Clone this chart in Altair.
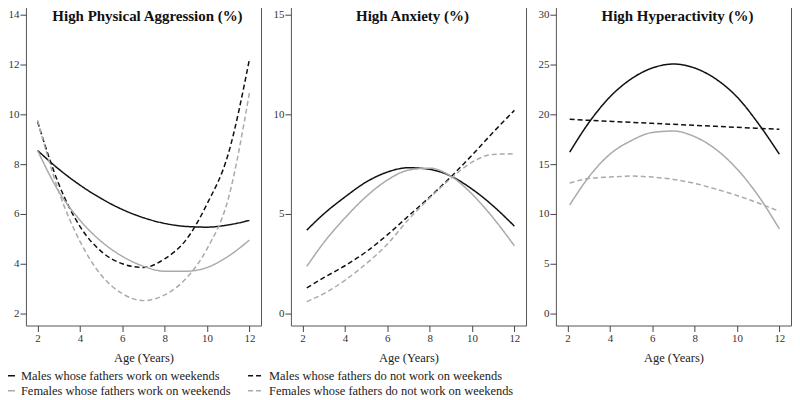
import altair as alt
import pandas as pd

SERIES = [
    "Males whose fathers work on weekends",
    "Males whose fathers do not work on weekends",
    "Females whose fathers work on weekends",
    "Females whose fathers do not work on weekends",
]
COLORS = ["#111111", "#111111", "#aaaaaa", "#aaaaaa"]
DASHES = [[1, 0], [5, 3], [1, 0], [5, 3]]

TITLES = ["High Physical Aggression (%)", "High Anxiety (%)", "High Hyperactivity (%)"]

# Panel 1: High Physical Aggression (%)
AGES_AGG = [2, 3, 4, 5, 6, 7, 8, 9, 10, 11, 12]
AGG_M_WORK = [8.55, 7.80, 7.16, 6.62, 6.18, 5.85, 5.62, 5.50, 5.47, 5.56, 5.74]
AGG_M_NOT = [9.7, 7.2, 5.5, 4.5, 4.0, 3.85, 4.2, 4.95, 6.4, 8.4, 12.2]
AGG_F_WORK = [8.55, 6.9, 5.75, 4.9, 4.3, 3.9, 3.7, 3.7, 3.85, 4.3, 4.95]
AGG_F_NOT = [9.76, 6.9, 4.9, 3.55, 2.8, 2.52, 2.75, 3.4, 4.6, 6.6, 10.85]

# Panel 2: High Anxiety (%)
AGES_ANX = [2.2, 3, 4, 5, 6, 7, 8, 9, 10, 11, 12]
ANX_M_WORK = [4.19, 5.0, 5.85, 6.6, 7.1, 7.32, 7.24, 6.9, 6.25, 5.4, 4.39]
ANX_M_NOT = [1.29, 1.8, 2.4, 3.1, 3.95, 4.9, 5.85, 6.86, 7.95, 9.1, 10.2]
ANX_F_WORK = [2.37, 3.56, 4.8, 5.87, 6.7, 7.2, 7.3, 6.9, 6.0, 4.8, 3.4]
ANX_F_NOT = [0.6, 1.0, 1.67, 2.5, 3.48, 4.72, 5.8, 6.78, 7.6, 7.99, 8.02]

# Panel 3: High Hyperactivity (%)
AGES_HYP = [2.1, 3, 4, 5, 6, 7, 8, 9, 10, 11, 12]
HYP_M_WORK = [16.2, 19.15, 21.75, 23.55, 24.65, 25.05, 24.65, 23.55, 21.75, 19.1, 16.0]
HYP_M_NOT = [19.5, 19.4, 19.3, 19.2, 19.1, 19.0, 18.9, 18.8, 18.7, 18.6, 18.5]
HYP_F_WORK = [10.9, 13.7, 16.0, 17.35, 18.18, 18.32, 17.76, 16.49, 14.52, 11.84, 8.5]
HYP_F_NOT = [13.1, 13.56, 13.7, 13.8, 13.7, 13.47, 13.07, 12.5, 11.85, 11.1, 10.26]

X_TICKS = [2, 4, 6, 8, 10, 12]
AGG_TICKS = [2, 4, 6, 8, 10, 12, 14]
ANX_TICKS = [0, 5, 10, 15]
HYP_TICKS = [0, 5, 10, 15, 20, 25, 30]

FONT = "Liberation Serif"
PANEL_W = 236
PANEL_H = 324


def make_df(ages, lists):
    rows = []
    for name, vals in zip(SERIES, lists):
        for a, v in zip(ages, vals):
            rows.append({"series": name, "age": a, "value": v})
    return pd.DataFrame(rows)


legend = alt.Legend(
    title=None,
    orient="none",
    legendX=-27,
    legendY=366,
    columns=2,
    direction="horizontal",
    gridAlign="each",
    columnPadding=14,
    rowPadding=-2,
    symbolType="stroke",
    symbolSize=225,
    symbolStrokeWidth=1.5,
    labelFont=FONT,
    labelFontSize=12.5,
    labelColor="#222222",
    labelLimit=0,
    labelOffset=5,
)


def panel(df, title, ydomain, yticks):
    lines = (
        alt.Chart(df)
        .mark_line(strokeWidth=1.5, interpolate="monotone")
        .encode(
            x=alt.X(
                "age:Q",
                scale=alt.Scale(domain=[1.45, 12.55], nice=False, zero=False),
                axis=alt.Axis(values=X_TICKS, title="Age (Years)"),
            ),
            y=alt.Y(
                "value:Q",
                scale=alt.Scale(domain=ydomain, nice=False, zero=False),
                axis=alt.Axis(values=yticks, title=None),
            ),
            color=alt.Color(
                "series:N",
                scale=alt.Scale(domain=SERIES, range=COLORS),
                legend=legend,
            ),
            strokeDash=alt.StrokeDash(
                "series:N",
                scale=alt.Scale(domain=SERIES, range=DASHES),
                legend=legend,
            ),
        )
    )
    head = (
        alt.Chart(pd.DataFrame({"t": [title]}))
        .mark_text(
            font=FONT,
            fontSize=15,
            fontWeight="bold",
            color="#111111",
            align="center",
            baseline="alphabetic",
        )
        .encode(text="t:N", x=alt.value(PANEL_W / 2 + 4), y=alt.value(18))
    )
    return alt.layer(lines, head).properties(width=PANEL_W, height=PANEL_H)


p1 = panel(make_df(AGES_AGG, [AGG_M_WORK, AGG_M_NOT, AGG_F_WORK, AGG_F_NOT]),
           TITLES[0], [1.52, 14.48], AGG_TICKS)
p2 = panel(make_df(AGES_ANX, [ANX_M_WORK, ANX_M_NOT, ANX_F_WORK, ANX_F_NOT]),
           TITLES[1], [-0.6, 15.6], ANX_TICKS)
p3 = panel(make_df(AGES_HYP, [HYP_M_WORK, HYP_M_NOT, HYP_F_WORK, HYP_F_NOT]),
           TITLES[2], [-1.2, 31.2], HYP_TICKS)

chart = (
    alt.hconcat(p1, p2, p3, spacing=30, bounds="flush")
    .properties(padding={"left": -9, "top": -7, "right": 0, "bottom": 0})
    .configure_view(stroke="#555555", strokeWidth=1)
    .configure_axis(
        domain=False,
        grid=False,
        tickColor="#444444",
        tickSize=6,
        labelFont=FONT,
        labelFontSize=11,
        labelColor="#333333",
        labelPadding=1,
        titleFont=FONT,
        titleFontSize=12.5,
        titleFontWeight="normal",
        titleColor="#222222",
        titlePadding=8,
    )
    .configure_axisX(labelPadding=1)
)

chart.save("out.html", embed_options={"renderer": "svg", "actions": False})
